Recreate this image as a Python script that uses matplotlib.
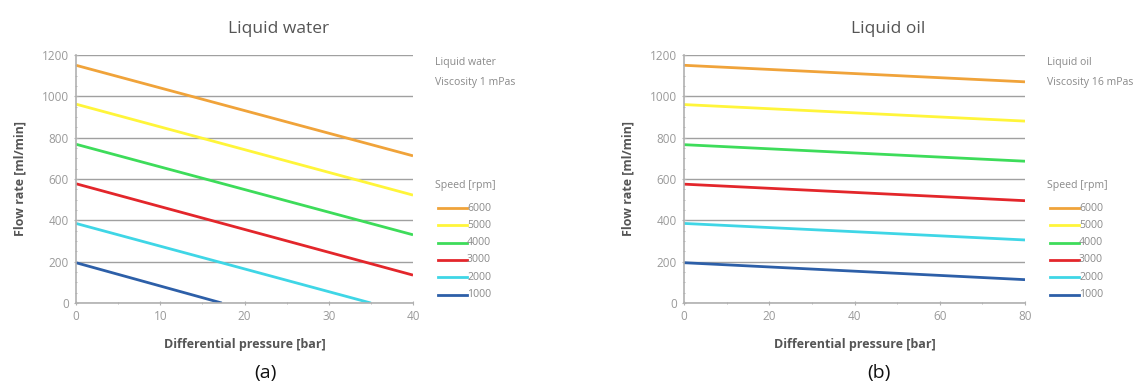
import matplotlib
matplotlib.use("Agg")
import matplotlib.pyplot as plt
from matplotlib.lines import Line2D
from matplotlib.ticker import MultipleLocator

plt.rcParams["font.family"] = ["Open Sans", "DejaVu Sans"]

speeds = ["6000", "5000", "4000", "3000", "2000", "1000"]
colors = ["#F0A33A", "#FFF53A", "#3DDC5A", "#E3262B", "#3FD6E6", "#2D5FA8"]

# Liquid water: pressure [bar] and flow [ml/min] at start/end of each line
water_p = [[0, 40], [0, 40], [0, 40], [0, 40], [0, 35], [0, 17.3]]
water_q = [[1150, 712], [962, 522], [768, 330], [577, 135], [385, 0], [195, 0]]

# Liquid oil
oil_p = [[0, 80]] * 6
oil_q = [[1150, 1070], [960, 880], [766, 686], [575, 495], [385, 305], [195, 113]]

W, H = 1145, 387
fig = plt.figure(figsize=(W / 100, H / 100), dpi=100)
fig.patch.set_facecolor("white")

grey = "#8a8a8a"
tick_col = "#9a9a9a"
small = 7.6


def draw(ax, p, q, xmax, xmajor, xminor, title, note1, note2, caption, cap_x):
    for xs, ys, c in zip(p, q, colors):
        ax.plot(xs, ys, color=c, lw=2.0, solid_capstyle="butt")
    ax.set_xlim(0, xmax)
    ax.set_ylim(0, 1200)
    ax.yaxis.set_major_locator(MultipleLocator(200))
    ax.yaxis.set_minor_locator(MultipleLocator(50))
    ax.xaxis.set_major_locator(MultipleLocator(xmajor))
    ax.xaxis.set_minor_locator(MultipleLocator(xminor))
    ax.grid(axis="y", which="major", color="#a0a0a0", lw=1.0)
    ax.set_axisbelow(True)
    for s in ("top", "right"):
        ax.spines[s].set_visible(False)
    for s in ("left", "bottom"):
        ax.spines[s].set_color("#b0b0b0")
        ax.spines[s].set_linewidth(1.2)
    ax.tick_params(axis="both", which="major", colors="#b0b0b0", labelcolor=tick_col,
                   labelsize=8.5, length=3, direction="inout")
    ax.tick_params(axis="both", which="minor", colors="#b0b0b0", length=2, direction="inout")
    ax.set_xlabel("Differential pressure [bar]", fontsize=9, fontweight="bold",
                  color="#555555", labelpad=11)
    ax.set_ylabel("Flow rate [ml/min]", fontsize=9, fontweight="bold",
                  color="#555555", labelpad=11)
    ax.set_title(title, fontsize=12.5, color="#555555", pad=16, x=0.6)

    # axes-fraction sizes of one pixel
    pos = ax.get_position()
    px = 1.0 / (pos.width * W)
    py = 1.0 / (pos.height * H)

    x0 = 1 + 22 * px
    ax.text(x0, 0.97, note1, transform=ax.transAxes, fontsize=small, color=grey, va="center")
    ax.text(x0, 0.89, note2, transform=ax.transAxes, fontsize=small, color=grey, va="center")

    # speed key drawn beside the plot
    ax.text(x0, 118 * py, "Speed [rpm]", transform=ax.transAxes, fontsize=small,
            color=grey, va="center")
    hx0, hx1 = 1 + 25 * px, 1 + 54 * px
    for i, (lab, c) in enumerate(zip(speeds, colors)):
        yy = (95 - 17.3 * i) * py
        ax.add_line(Line2D([hx0, hx1], [yy, yy], color=c, lw=2.0,
                           transform=ax.transAxes, clip_on=False))
        ax.text(hx1, yy, lab, transform=ax.transAxes, fontsize=small, color=grey,
                va="center")

    fig.text(cap_x, 0.035, caption, fontsize=14, ha="center", va="center", color="#111111")


ax1 = fig.add_axes([0.0664, 0.217, 0.2943, 0.641])
draw(ax1, water_p, water_q, 40, 10, 5, "Liquid water", "Liquid water",
     "Viscosity 1 mPas", "(a)", 0.232)

ax2 = fig.add_axes([0.5974, 0.217, 0.2978, 0.641])
draw(ax2, oil_p, oil_q, 80, 20, 10, "Liquid oil", "Liquid oil",
     "Viscosity 16 mPas", "(b)", 0.768)

fig.savefig("out.png", dpi=100, facecolor="white")
